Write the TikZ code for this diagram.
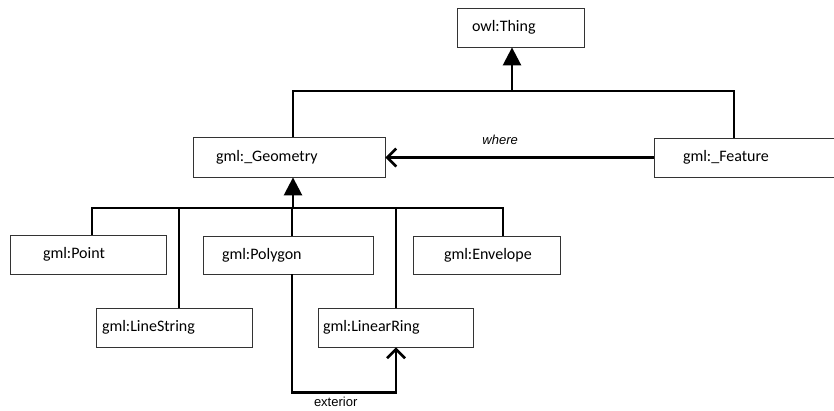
\documentclass[tikz,border=0pt]{standalone}
\usepackage{fontspec}
\newfontfamily\clsfont{Carlito}
\newfontfamily\lblfont{Liberation Sans}
\usetikzlibrary{arrows.meta,positioning}
\tikzset{
	concept/.style={
		rectangle,
		draw=black!80, line width=0.8pt,
		minimum height=39pt,
		inner xsep=0pt,
		font=\clsfont\fontsize{16}{19}\selectfont,
	},
	isa/.style={line width=2.6pt, -{Triangle[width=18pt,length=18pt]}},
	link/.style={line width=2.6pt},
	rel/.style={line width=2.6pt, -{Straight Barb[length=9pt,width=18pt]}},
	role/.style={font=\lblfont\fontsize{13}{15}\selectfont, inner sep=0pt},
}
% class name with a left indent inside a box of fixed width
\newcommand{\boxtext}[3]{\makebox[#1][l]{\hspace*{#2}#3}}

\begin{document}
\begin{tikzpicture}[x=1pt,y=-1pt]
\useasboundingbox (0,0) rectangle (834,410);

\node	(thing)		[concept]	at (520.5,27.5)	{\boxtext{127pt}{15pt}{owl:Thing}};
\node	(geometry)	[concept, minimum height=40pt]	at (289,157)	{\boxtext{192pt}{23pt}{gml:\_Geometry}};
\node	(feature)	[concept]	at (754,157.5)	{\boxtext{200pt}{29pt}{gml:\_Feature}};

\node	(point)		[concept]	at (88,254.5)	{\boxtext{156pt}{33pt}{gml:Point}};
\node	(polygon)	[concept, minimum height=38pt]	at (288,255)	{\boxtext{170pt}{19pt}{gml:Polygon}};
\node	(envelope)	[concept, minimum height=38pt]	at (486.5,255)	{\boxtext{147pt}{31pt}{gml:Envelope}};
\node	(linestring)	[concept]	at (174,327.5)	{\boxtext{156pt}{6pt}{gml:LineString}};
\node	(linearring)	[concept]	at (395.5,327.5)	{\boxtext{155pt}{5pt}{gml:LinearRing}};

% subclasses of owl:Thing
\coordinate (top) at (512,91);
\draw[link] ([xshift=4pt]geometry.north) |- (top) -| ([xshift=-20pt]feature.north);
\draw[isa] (top) -- ([xshift=-8.5pt]thing.south);

\draw[rel] (feature.west) -- node[role, pos=0.572, above=12pt] {\itshape where} (feature.west -| geometry.east);

% subclasses of gml:_Geometry
\coordinate (bus) at (293,208);
\draw[isa] (bus) -- ([xshift=4pt]geometry.south);
\draw[link] ([xshift=4pt]point.north) |- ([xshift=16.5pt]envelope.north |- bus) -- ([xshift=16.5pt]envelope.north);
\draw[link] ([xshift=5pt]linestring.north) -- ([xshift=5pt]linestring.north |- bus);
\draw[link] ([xshift=4pt]polygon.north) -- ([xshift=4pt]polygon.north |- bus);
\draw[link] ([xshift=0.5pt]linearring.north) -- ([xshift=0.5pt]linearring.north |- bus);

\draw[rel] ([xshift=4pt]polygon.south) -- ++(0,118) -| node[role, pos=0.21, below=3pt] {exterior} ([xshift=0.5pt]linearring.south);

\end{tikzpicture}
\end{document}
